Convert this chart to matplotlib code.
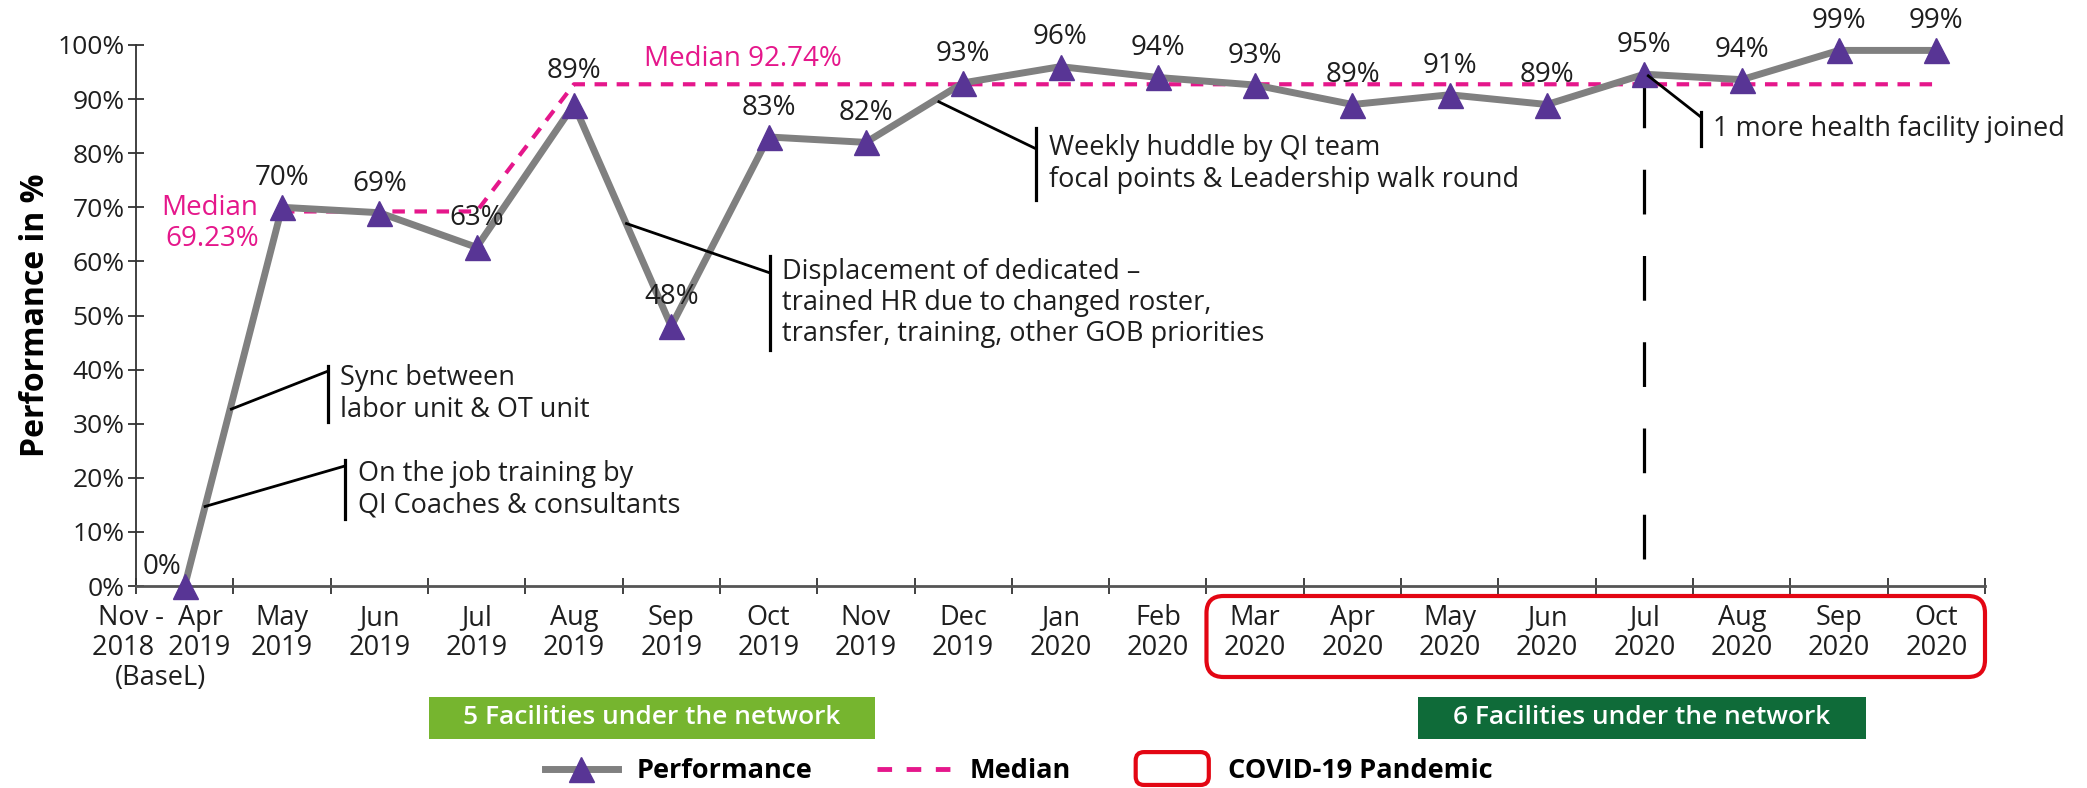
import matplotlib
matplotlib.use("Agg")
import matplotlib.pyplot as plt
from matplotlib.lines import Line2D
from matplotlib.patches import FancyBboxPatch, Patch, Rectangle
from matplotlib.legend_handler import HandlerPatch
from matplotlib.transforms import IdentityTransform, ScaledTranslation

plt.rcParams["font.family"] = ["Open Sans", "DejaVu Sans"]

# Data
months = ["Nov -  Apr\n2018  2019\n(BaseL)", "May\n2019", "Jun\n2019", "Jul\n2019",
          "Aug\n2019", "Sep\n2019", "Oct\n2019", "Nov\n2019", "Dec\n2019", "Jan\n2020",
          "Feb\n2020", "Mar\n2020", "Apr\n2020", "May\n2020", "Jun\n2020", "Jul\n2020",
          "Aug\n2020", "Sep\n2020", "Oct\n2020"]
performance = [0, 70, 69, 62.6, 89, 48, 83, 82, 93, 96, 94, 92.6, 89, 90.8, 89, 94.6,
               93.6, 99, 99]
median_phase1 = 69.23   # May-Jul 2019
median_phase2 = 92.74   # Aug 2019 onwards
median_values = [median_phase1] * 3 + [median_phase2] * 15
median_x = list(range(1, 19))

GRAY = "#808080"
PURPLE = "#583595"
MAGENTA = "#E5178B"
RED = "#E30613"
LIGHT_GREEN = "#76B52F"
DARK_GREEN = "#0F6B39"
INK = "#1e1e1e"

W, H = 2087, 788
fig = plt.figure(figsize=(W / 100, H / 100), dpi=100)
ax = fig.add_axes([136 / W, 1 - 586 / H, (1985 - 136) / W, (586 - 45) / H])

x = list(range(len(months)))
ax.plot(median_x, median_values, color=MAGENTA, lw=3, ls=(0, (3, 2.3)), zorder=2)
ax.plot(x, performance, color=GRAY, lw=5, marker="^", ms=18, mfc=PURPLE, mec=PURPLE,
        zorder=3, clip_on=False)

# point labels
for i, v in enumerate(performance):
    dx, dy = (-16, 14) if i == 0 else (0, 21)
    if i == 4:
        dy = 24
    ax.annotate(f"{v:.0f}%", (i, v), xytext=(dx, dy), textcoords="offset points",
                ha="center", va="center", fontsize=20, color=INK)

ax.text(0.76, 67, "Median\n69.23%", color=MAGENTA, fontsize=20, ha="right", va="center",
        linespacing=1.1)
ax.text(4.72, 97.4, "Median 92.74%", color=MAGENTA, fontsize=20, ha="left", va="center")

# process-change annotations: (leader start, leader end, bracket span, text)
notes = [
    ((0.48, 32.7), (1.47, 39.7), (40.7, 30.3), "Sync between\nlabor unit & OT unit"),
    ((0.21, 14.7), (1.65, 22.2), (23.3, 12.4), "On the job training by\nQI Coaches & consultants"),
    ((4.54, 67.0), (6.01, 57.9), (61.0, 43.6),
     "Displacement of dedicated –\ntrained HR due to changed roster,\ntransfer, training, other GOB priorities"),
    ((7.75, 89.5), (8.75, 80.8), (84.7, 71.3), "Weekly huddle by QI team\nfocal points & Leadership walk round"),
    ((15.04, 94.3), (15.58, 86.7), (87.6, 81.3), "1 more health facility joined"),
]
for (sx, sy), (ex, ey), (b0, b1), txt in notes:
    ax.plot([sx, ex], [sy, ey], color="black", lw=2, zorder=4, clip_on=False)
    ax.plot([ex, ex], [b0, b1], color="black", lw=2.3, zorder=4, clip_on=False)
    ax.text(ex + 0.13, (b0 + b1) / 2, txt, fontsize=19.5, ha="left", va="center",
            linespacing=1.15, color=INK)

# vertical marker when the 6th facility joined
ax.plot([15, 15], [93, 0], color="black", lw=2.3, ls=(0, (14, 13)), zorder=1)

ax.set_xlim(-0.5, 18.5)
ax.set_ylim(0, 100)
ax.set_yticks(range(0, 101, 10))
ax.set_yticklabels([f"{t}%" for t in range(0, 101, 10)], fontsize=19, color=INK)
ax.set_xticks(x)
ax.set_xticklabels(months, fontsize=19.5, color=INK, linespacing=1.1)
ax.set_xticks([i - 0.5 for i in range(len(months) + 1)], minor=True)
ax.tick_params(axis="x", which="major", length=0, pad=13)
ax.tick_params(axis="x", which="minor", direction="inout", length=12, width=1.3, color="#333333")
ax.tick_params(axis="y", direction="inout", length=12, width=1.3, color="#333333", pad=2)
lbl0 = ax.get_xticklabels()[0]
lbl0.set_transform(lbl0.get_transform() + ScaledTranslation(-0.24, 0, fig.dpi_scale_trans))
for s in ["top", "right"]:
    ax.spines[s].set_visible(False)
ax.spines["left"].set_color("#333333")
ax.spines["bottom"].set_color("#555555")
ax.spines["left"].set_linewidth(1.3)
ax.spines["bottom"].set_linewidth(2)
ax.set_ylabel("Performance in %", fontsize=23, fontweight="bold", labelpad=4)

# COVID-19 rounded box round the Mar-Oct 2020 labels
x0 = ax.transData.transform((10.5, 0))[0]
x1 = ax.transData.transform((18.5, 0))[0]
covid_box = FancyBboxPatch((x0, H - 677), x1 - x0, 677 - 596,
                           boxstyle="round,pad=0,rounding_size=17", fc="none", ec=RED,
                           lw=3, transform=IdentityTransform())
fig.add_artist(covid_box)

# facility-count bands
for left, right, color, txt in [(429, 875, LIGHT_GREEN, "5 Facilities under the network"),
                                (1418, 1866, DARK_GREEN, "6 Facilities under the network")]:
    fig.add_artist(Rectangle((left / W, 1 - 739 / H), (right - left) / W, 42 / H,
                             transform=fig.transFigure, fc=color, ec="none"))
    fig.text((left + right) / 2 / W, 1 - 718 / H, txt, color="white", fontsize=19,
             fontweight="semibold", ha="center", va="center")


class HandlerRound(HandlerPatch):
    def create_artists(self, legend, orig_handle, xdescent, ydescent, width, height,
                       fontsize, trans):
        p = FancyBboxPatch((-xdescent, -ydescent - 5), width, height + 10,
                           boxstyle="round,pad=0,rounding_size=6", fc="white", ec=RED, lw=3)
        p.set_transform(trans)
        return [p]


handles = [
    Line2D([], [], color=GRAY, lw=5, marker="^", ms=18, mfc=PURPLE, mec=PURPLE),
    Line2D([], [], color=MAGENTA, lw=3.5, ls=(0, (3, 3))),
    Patch(fc="white", ec=RED),
]
fig.legend(handles, ["Performance", "Median", "COVID-19 Pandemic"], loc="center",
           bbox_to_anchor=(0.488, 1 - 771 / H), ncol=3, frameon=False, handlelength=2.7,
           columnspacing=2.4, handletextpad=0.7, prop={"size": 19.5, "weight": "bold"},
           handler_map={Patch: HandlerRound()})

fig.savefig("out.png", dpi=100)
